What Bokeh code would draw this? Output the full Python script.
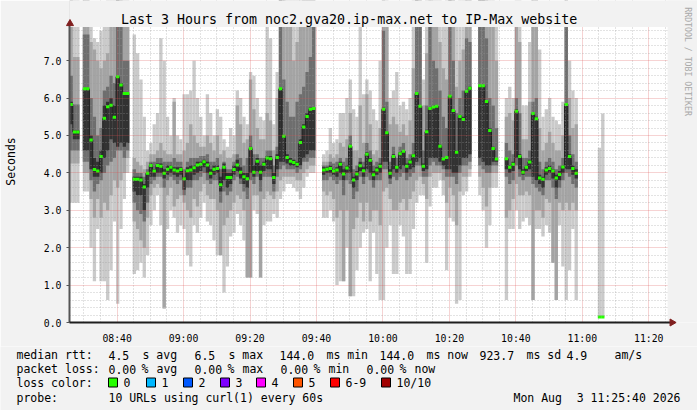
import numpy as np
from math import pi
from bokeh.plotting import figure
from bokeh.layouts import column
from bokeh.models import ColumnDataSource, FixedTicker, Range1d
from bokeh.core.properties import value
from bokeh.embed import file_html
from bokeh.resources import INLINE

# ---------------- data ----------------
title_text = "Last 3 Hours from noc2.gva20.ip-max.net to IP-Max website"
start_minute = 8 * 60 + 25 + 40 / 60.0      # 08:25:40
span_minutes = 180
x_tick_minutes = [520, 540, 560, 580, 600, 620, 640, 660, 680]
x_tick_labels = ["08:40", "09:00", "09:20", "09:40", "10:00", "10:20", "10:40", "11:00", "11:20"]
y_ticks = [0, 1, 2, 3, 4, 5, 6, 7]
y_tick_labels = ["0.0", "1.0", "2.0", "3.0", "4.0", "5.0", "6.0", "7.0"]
y_max = 7.9

N = None
# median rtt per minute (seconds)
median = [
    5.83, 5.09, 5.09, N, 6.25, 6.25, 4.88, 4.09, 4.05, 4.44,
    5.46, 5.77, 5.81, 5.49, 6.57, 6.35, 6.12, 6.12, N, 3.83,
    3.83, 3.81, 3.62, 3.99, 4.20, 4.05, 4.20, 4.18, 3.99, 4.10,
    4.15, 4.08, 4.05, 4.09, 3.84, 4.06, 4.08, 4.14, 4.21, 4.23,
    4.30, 4.21, 3.99, 4.10, 4.12, 3.68, 4.15, 3.88, 3.88, 4.09,
    4.21, 4.02, 3.90, 3.84, 4.65, 4.02, 4.31, 4.02, 4.23, 4.40,
    4.38, 3.88, 4.41, 6.25, 4.98, 4.41, 4.31, 4.28, 4.23, 4.81,
    5.23, 5.51, 5.70, 5.72, N, N, 4.08, 4.10, 4.12, 4.05,
    4.08, 4.23, 3.97, 4.13, 4.71, 3.81, 3.97, 4.19, 4.06, 4.50,
    4.34, 3.95, 4.08, 4.18, 5.70, 5.07, 3.99, 4.44, 4.15, 4.51,
    4.58, 4.18, 4.29, 4.46, 6.12, 5.78, 4.18, 5.10, 5.72, 5.76,
    5.78, 4.71, 4.37, 4.41, 6.05, 5.67, 4.55, 5.51, 5.43, 6.18,
    6.26, N, N, 6.33, 6.33, 5.91, 5.13, 4.65, 4.37, N,
    N, 4.38, 4.15, 4.23, 5.65, 4.44, 4.02, 4.15, 4.29, 5.59,
    5.45, 3.86, 3.83, 4.08, 4.12, 4.05, 3.86, 3.96, 4.16, 5.83,
    4.44, 4.12, 3.99, N, N, N, N, N, N, 0.144,
    0.144]

# smoke: outermost band (lightest)
smoke1_lo = [
    3.2, 3.2, 3.2, N, 3.5, 3.5, 2.0, 1.1, 2.5, 1.1,
    1.1, 0.6, 1.4, 2.7, 0.5, 2.5, 3.3, 4.0, N, 1.3,
    1.4, 1.6, 1.2, 1.8, 2.6, 3.0, 3.4, 2.6, 0.36, 2.5,
    3.0, 2.8, 2.4, 2.6, 2.5, 1.8, 1.5, 2.6, 2.4, 2.8,
    3.2, 2.7, 2.6, 2.2, 1.8, 1.8, 0.8, 1.5, 2.3, 2.4,
    2.9, 2.6, 2.2, 1.2, 1.2, 3.0, 2.9, 1.2, 2.6, 2.7,
    2.7, 2.9, 2.8, 3.3, 3.5, 3.7, 3.7, 3.6, 3.5, 3.3,
    3.6, 3.9, 4.0, 4.0, N, N, 2.8, 2.8, 3.0, 2.7,
    1.0, 1.1, 1.1, 2.0, 0.7, 0.7, 1.4, 2.0, 2.4, 2.5,
    1.1, 2.4, 1.3, 0.6, 0.6, 2.0, 2.6, 1.3, 1.3, 2.6,
    2.3, 1.3, 1.3, 2.5, 3.2, 3.4, 3.4, 1.6, 3.1, 3.6,
    3.6, 3.8, 3.4, 1.4, 2.8, 2.7, 0.5, 0.6, 3.4, 3.5,
    3.9, N, N, 3.4, 3.0, 2.0, 2.6, 3.6, 3.6, N,
    N, 0.6, 2.5, 2.5, 3.0, 2.5, 2.7, 2.8, 2.6, 0.6,
    2.5, 2.5, 2.3, 2.6, 2.4, 1.6, 0.6, 2.6, 1.5, 0.6,
    1.4, 2.5, 0.6, N, N, N, N, N, N, 0.14,
    0.14]
smoke1_hi = [
    9, 9, 9, N, 9, 9, 8.0, 7.6, 7.5, 7.8,
    7.9, 9, 9, 9, 9, 9, 9, 9, N, 7.7,
    7.2, 6.5, 5.5, 4.6, 4.8, 5.3, 5.6, 7.6, 7.0, 5.5,
    5.0, 6.0, 5.0, 4.9, 6.1, 6.1, 6.2, 7.0, 6.0, 5.5,
    5.0, 6.1, 5.6, 5.0, 5.7, 5.5, 4.9, 4.7, 5.2, 5.0,
    6.2, 6.0, 5.5, 5.3, 6.7, 6.6, 6.0, 5.5, 5.4, 7.9,
    7.6, 5.3, 6.7, 9, 9, 9, 9, 9, 9, 9,
    9, 9, 9, 9, N, N, 4.5, 4.6, 5.2, 4.8,
    4.9, 5.6, 5.6, 6.0, 6.5, 5.7, 5.5, 7.9, 6.1, 6.5,
    6.2, 5.7, 5.4, 7.0, 9, 9, 6.0, 6.2, 6.7, 5.8,
    5.9, 5.7, 6.0, 9, 9, 9, 6.5, 9, 9, 9,
    9, 9, 8.5, 9, 9, 9, 8.0, 9, 9, 9,
    9, N, N, 9, 9, 9, 9, 9, 8.2, N,
    N, 6.0, 6.3, 6.0, 9, 9, 5.8, 5.8, 7.5, 9,
    9, 7.3, 5.5, 5.7, 6.0, 5.5, 5.4, 5.3, 5.9, 9,
    7.0, 6.2, 6.0, N, N, N, N, N, N, 4.67,
    5.59]
# second band
smoke2_lo = [
    4.25, 4.25, 4.25, N, 4.0, 4.0, 3.3, 2.8, 3.3, 2.8,
    3.2, 3.0, 3.4, 3.8, 3.6, 3.8, 4.0, 4.4, N, 2.7,
    2.5, 2.2, 2.0, 2.8, 3.4, 3.6, 3.7, 3.6, 0.4, 3.4,
    3.6, 3.1, 3.3, 3.4, 3.2, 3.0, 2.8, 3.3, 3.1, 3.5,
    3.7, 3.4, 3.3, 3.3, 3.0, 1.8, 2.6, 2.8, 3.0, 3.2,
    3.4, 3.3, 3.0, 1.2, 1.2, 3.4, 3.4, 1.2, 3.3, 3.5,
    3.4, 3.3, 3.5, 3.8, 3.9, 3.9, 3.9, 3.9, 3.8, 3.8,
    4.0, 4.1, 4.2, 4.2, N, N, 3.5, 3.4, 3.5, 3.3,
    2.8, 3.0, 1.1, 3.0, 0.7, 2.5, 2.8, 3.2, 2.7, 3.2,
    2.7, 3.0, 3.0, 2.6, 3.5, 3.6, 3.3, 3.0, 3.0, 3.2,
    3.3, 3.0, 3.3, 3.5, 3.8, 3.9, 3.7, 3.3, 3.9, 4.0,
    4.0, 4.0, 3.8, 3.2, 3.6, 3.4, 2.6, 3.5, 3.9, 3.9,
    4.1, N, N, 3.9, 3.6, 3.1, 3.6, 4.0, 4.0, N,
    N, 2.8, 3.0, 3.3, 3.7, 3.4, 3.4, 3.5, 3.4, 0.6,
    3.0, 3.0, 2.8, 3.3, 3.2, 1.6, 0.6, 3.2, 3.0, 3.2,
    3.0, 3.2, 3.0, N, N, N, N, N, N, N,
    N]
smoke2_hi = [
    9, 7.1, 7.1, N, 9, 9, 7.5, 7.3, 7.0, 6.8,
    7.0, 7.2, 7.9, 8.0, 9, 9, 8.2, 8.0, N, 4.4,
    4.3, 4.2, 4.1, 4.3, 4.5, 4.5, 4.6, 4.8, 4.6, 4.5,
    4.5, 5.9, 4.5, 4.5, 4.6, 4.8, 5.3, 5.0, 4.8, 4.7,
    4.7, 5.0, 4.8, 4.6, 5.0, 4.5, 4.6, 4.4, 4.4, 4.5,
    5.8, 5.3, 4.8, 4.9, 6.5, 5.7, 5.2, 4.9, 4.9, 5.6,
    5.4, 4.6, 6.0, 9, 9, 8.2, 7.9, 7.0, 7.5, 8.0,
    9, 9, 9, 9, N, N, 4.3, 4.3, 4.5, 4.4,
    4.5, 4.8, 4.7, 4.9, 5.6, 4.6, 4.6, 5.8, 4.8, 6.1,
    5.3, 4.5, 4.6, 5.2, 9, 7.9, 5.3, 5.5, 5.3, 5.1,
    5.3, 5.0, 5.4, 6.8, 9, 9, 5.8, 7.2, 9, 8.5,
    8.5, 7.5, 6.8, 6.5, 9, 9, 6.3, 7.0, 7.3, 9,
    9, N, N, 9, 9, 9, 8.0, 8.0, 7.0, N,
    N, 5.5, 5.6, 5.4, 7.9, 7.5, 4.9, 4.9, 5.9, 9,
    9, 5.2, 4.6, 4.8, 5.1, 4.8, 4.6, 4.6, 5.0, 9,
    6.0, 5.2, 5.3, N, N, N, N, N, N, N,
    N]
# third band
smoke3_lo = [
    4.6, 4.6, 4.6, N, 4.3, 4.3, 3.8, 3.5, 3.7, 3.8,
    4.0, 4.2, 4.3, 4.4, 4.6, 4.6, 4.4, 4.6, N, 3.2,
    3.0, 2.9, 2.7, 3.2, 3.7, 3.8, 3.9, 3.9, 3.6, 3.8,
    3.9, 3.8, 3.7, 3.8, 3.4, 3.6, 3.6, 3.8, 3.8, 3.9,
    4.0, 3.8, 3.7, 3.8, 3.8, 3.2, 3.5, 3.4, 3.5, 3.8,
    3.9, 3.7, 3.5, 3.3, 3.8, 3.7, 3.9, 3.5, 3.9, 3.9,
    3.9, 3.5, 3.9, 4.1, 4.2, 4.1, 4.1, 4.1, 4.0, 4.1,
    4.3, 4.3, 4.4, 4.4, N, N, 3.8, 3.8, 3.9, 3.8,
    3.7, 3.8, 3.4, 3.8, 3.7, 3.3, 3.5, 3.9, 3.7, 3.9,
    3.8, 3.6, 3.8, 3.8, 4.1, 4.1, 3.7, 3.9, 3.8, 3.9,
    4.0, 3.8, 3.9, 4.0, 4.2, 4.2, 3.9, 3.9, 4.2, 4.3,
    4.2, 4.2, 4.1, 3.9, 3.9, 3.9, 3.7, 4.0, 4.2, 4.2,
    4.3, N, N, 4.2, 4.1, 4.0, 4.0, 4.2, 4.2, N,
    N, 3.9, 3.7, 3.8, 4.2, 3.9, 3.8, 3.9, 3.9, 3.7,
    3.6, 3.5, 3.4, 3.8, 3.8, 3.6, 3.3, 3.6, 3.8, 4.0,
    3.9, 3.7, 3.6, N, N, N, N, N, N, N,
    N]
smoke3_hi = [
    6.6, 5.83, 5.83, N, 7.7, 7.7, 6.0, 5.5, 5.0, 5.2,
    6.2, 6.3, 6.6, 6.4, 9, 7.9, 7.0, 7.0, N, 4.1,
    4.0, 4.0, 3.9, 4.1, 4.3, 4.3, 4.4, 4.4, 4.3, 4.3,
    4.3, 4.4, 4.3, 4.3, 4.1, 4.3, 4.4, 4.4, 4.4, 4.45,
    4.45, 4.5, 4.3, 4.3, 4.4, 4.1, 4.3, 4.1, 4.1, 4.3,
    4.5, 4.4, 4.2, 4.4, 5.0, 4.5, 4.5, 4.4, 4.4, 4.6,
    4.6, 4.2, 4.7, 9, 6.5, 5.9, 5.5, 5.5, 5.9, 6.1,
    6.3, 6.7, 7.1, 7.9, N, N, 4.2, 4.2, 4.3, 4.25,
    4.3, 4.4, 4.3, 4.4, 5.0, 4.1, 4.2, 4.4, 4.3, 4.8,
    4.6, 4.2, 4.3, 4.4, 7.8, 5.9, 4.3, 4.7, 4.4, 4.7,
    4.8, 4.4, 4.5, 4.8, 9, 7.9, 4.6, 5.8, 7.9, 7.0,
    6.8, 6.2, 5.5, 5.2, 9, 7.0, 5.6, 6.0, 6.2, 7.6,
    7.5, N, N, 9, 9, 7.6, 6.0, 5.8, 5.2, N,
    N, 4.8, 4.6, 4.5, 6.0, 5.6, 4.4, 4.4, 4.6, 5.9,
    6.0, 4.3, 4.1, 4.3, 4.4, 4.3, 4.1, 4.2, 4.4, 7.9,
    5.0, 4.5, 4.3, N, N, N, N, N, N, N,
    N]
# innermost band (darkest)
smoke4_lo = [
    5.3, 4.9, 4.9, N, 4.6, 4.6, 4.1, 3.9, 3.9, 4.0,
    4.4, 4.6, 4.9, 4.8, 4.7, 4.8, 4.7, 4.8, N, 3.5,
    3.4, 3.4, 3.0, 3.6, 3.9, 3.9, 4.0, 4.0, 3.85, 3.95,
    4.0, 3.95, 3.9, 3.95, 3.55, 3.8, 3.8, 3.95, 4.0, 4.05,
    4.15, 4.0, 3.85, 3.95, 4.0, 3.5, 3.8, 3.6, 3.7, 3.95,
    4.05, 3.85, 3.7, 3.6, 4.0, 3.9, 4.05, 3.8, 4.05, 4.1,
    4.1, 3.7, 4.1, 4.3, 4.3, 4.25, 4.2, 4.2, 4.15, 4.2,
    4.4, 4.5, 4.6, 4.6, N, N, 3.95, 4.0, 4.0, 3.95,
    3.9, 4.0, 3.8, 4.0, 4.0, 3.6, 3.8, 4.05, 3.9, 4.1,
    4.0, 3.8, 3.95, 4.0, 4.3, 4.3, 3.85, 4.1, 4.0, 4.1,
    4.2, 4.0, 4.1, 4.15, 4.3, 4.4, 4.05, 4.1, 4.4, 4.4,
    4.4, 4.3, 4.2, 4.1, 4.1, 4.0, 4.0, 4.2, 4.4, 4.4,
    4.5, N, N, 4.4, 4.3, 4.2, 4.2, 4.3, 4.3, N,
    N, 4.1, 4.0, 4.05, 4.4, 4.1, 3.95, 4.05, 4.1, 3.9,
    3.8, 3.7, 3.6, 3.95, 4.0, 3.85, 3.6, 3.8, 4.0, 4.1,
    4.1, 3.95, 3.85, N, N, N, N, N, N, N,
    N]
smoke4_hi = [
    5.9, 5.13, 5.13, N, 6.25, 6.25, 5.0, 4.4, 4.3, 4.6,
    5.8, 5.9, 6.0, 5.8, 6.6, 6.4, 6.12, 6.12, N, 3.9,
    3.9, 3.9, 3.7, 4.0, 4.25, 4.1, 4.25, 4.25, 4.1, 4.2,
    4.2, 4.15, 4.15, 4.15, 3.9, 4.15, 4.2, 4.2, 4.3, 4.3,
    4.35, 4.3, 4.1, 4.2, 4.2, 3.9, 4.25, 4.0, 4.0, 4.2,
    4.35, 4.15, 4.0, 4.0, 4.7, 4.2, 4.4, 4.2, 4.3, 4.45,
    4.45, 4.0, 4.5, 6.25, 5.0, 4.5, 4.4, 4.35, 4.3, 4.9,
    5.3, 5.6, 5.75, 5.75, N, N, 4.15, 4.15, 4.2, 4.1,
    4.15, 4.3, 4.1, 4.2, 4.75, 3.9, 4.05, 4.3, 4.15, 4.55,
    4.4, 4.05, 4.15, 4.25, 5.75, 5.1, 4.1, 4.5, 4.2, 4.55,
    4.6, 4.25, 4.35, 4.5, 6.15, 5.8, 4.25, 5.15, 5.75, 5.8,
    5.8, 4.75, 4.4, 4.45, 6.05, 5.7, 4.6, 5.55, 5.5, 6.2,
    6.3, N, N, 6.33, 6.33, 5.95, 5.2, 4.7, 4.4, N,
    N, 4.4, 4.2, 4.3, 5.7, 4.5, 4.1, 4.2, 4.35, 5.6,
    5.5, 3.95, 3.9, 4.15, 4.2, 4.1, 3.95, 4.05, 4.2, 5.85,
    4.5, 4.2, 4.1, N, N, N, N, N, N, N,
    N]

legend_line1 = [(16, "median rtt:"), (108, "4.5"), (142, "s avg"), (194, "6.5"), (228, "s max"),
                (279, "144.0"), (326, "ms min"), (379, "144.0"), (426, "ms now"),
                (479, "923.7"), (526, "ms sd"), (566, "4.9"), (614, "am/s")]
legend_line2 = [(16, "packet loss:"), (108, "0.00"), (141, "%"), (156, "avg"),
                (194, "0.00"), (227, "%"), (242, "max"), (280, "0.00"), (313, "%"), (328, "min"),
                (366, "0.00"), (399, "%"), (414, "now")]
loss_labels = ["0", "1", "2", "3", "4", "5", "6-9", "10/10"]
loss_colors = ["#26ff00", "#00b8ff", "#0059ff", "#7e00ff", "#ff00ff", "#ff5500", "#ff0000", "#a10000"]
loss_box_px = [108, 146, 183, 220, 256, 293, 330, 381]
probe_text = "10 URLs using curl(1) every 60s"
date_left = "Mon Aug"
date_right = "3 11:25:40 2026"
watermark = "RRDTOOL / TOBI OETIKER"

# ---------------- layout constants (pixels) ----------------
FONT = "DejaVu Sans Mono"
BG = "#f2f2f2"
W = 697
MAIN_H = 346
LEG_H = 410 - MAIN_H
PX_LEFT, PX_BOTTOM = 67, 328        # canvas corner
PX_PER_MIN = 600 / span_minutes
PX_PER_SEC = 38.1


def arr(v):
    return np.array([np.nan if a is None else a for a in v], dtype=float)


def X(px):
    return start_minute + (px - PX_LEFT) / PX_PER_MIN


def Y(py):
    return (PX_BOTTOM - py) / PX_PER_SEC


n = len(median)
left = start_minute + np.arange(n)
right = left + 1
med = arr(median)
end_minute = start_minute + span_minutes

# frame spans from x=67 to the right edge and from the top edge down to y=328
p = figure(width=W, height=MAIN_H,
           x_range=Range1d(start_minute, X(W)), y_range=Range1d(0, Y(0)),
           output_backend="svg", toolbar_location=None,
           min_border_left=PX_LEFT, min_border_right=0, min_border_top=0,
           min_border_bottom=MAIN_H - PX_BOTTOM,
           background_fill_color="white", border_fill_color=BG, outline_line_color=None)
p.frame_align = False

band_colors = ["#cacaca", "#a4a4a4", "#6e6e6e", "#323232"]
bands = [(smoke1_lo, smoke1_hi), (smoke2_lo, smoke2_hi), (smoke3_lo, smoke3_hi), (smoke4_lo, smoke4_hi)]
for (lo, hi), col in zip(bands, band_colors):
    src = ColumnDataSource(dict(left=left, right=right, bottom=arr(lo), top=arr(hi)))
    p.quad(left="left", right="right", bottom="bottom", top="top", source=src,
           fill_color=col, line_color=None)

# median connectors and loss-coloured median marks
vx, vy0, vy1 = [], [], []
for i in range(n - 1):
    if not np.isnan(med[i]) and not np.isnan(med[i + 1]):
        vx.append(right[i]); vy0.append(med[i]); vy1.append(med[i + 1])
p.segment(x0=vx, y0=vy0, x1=vx, y1=vy1, line_color="#202020", line_width=1)
msrc = ColumnDataSource(dict(x0=left, x1=right, y=med))
p.segment(x0="x0", y0="y", x1="x1", y1="y", source=msrc, line_color=loss_colors[0],
          line_width=3, line_cap="butt")

# axes / grid
minor_x = [m for m in range(510, 686, 5) if m not in x_tick_minutes]
minor_y = [round(v * 0.2, 1) for v in range(0, 40) if v % 5 != 0]
xt = FixedTicker(ticks=x_tick_minutes, minor_ticks=minor_x)
yt = FixedTicker(ticks=y_ticks, minor_ticks=minor_y)
p.xaxis.ticker = xt
p.yaxis.ticker = yt
p.xgrid.ticker = xt
p.ygrid.ticker = yt
p.xaxis.major_label_overrides = dict(zip(x_tick_minutes, x_tick_labels))
p.yaxis.major_label_overrides = dict(zip(y_ticks, y_tick_labels))
for ax in (p.xaxis, p.yaxis):
    ax.major_label_text_font = FONT
    ax.major_label_text_font_size = "9.8px"
    ax.major_label_text_color = "black"
    ax.minor_tick_line_color = None
    ax.axis_line_color = None
p.xaxis.major_tick_line_color = None
p.xaxis.major_label_standoff = 4
p.yaxis.major_tick_line_color = "#555555"
p.yaxis.major_tick_out = 3
p.yaxis.major_tick_in = 0
p.yaxis.major_label_standoff = 4
p.yaxis.axis_label = "Seconds"
p.yaxis.axis_label_text_font = FONT
p.yaxis.axis_label_text_font_size = "11.5px"
p.yaxis.axis_label_text_font_style = "normal"
p.yaxis.axis_label_text_color = "black"
p.yaxis.axis_label_standoff = 23
for g in (p.xgrid, p.ygrid):
    g.grid_line_color = "#de4f4f"
    g.grid_line_alpha = 0.5
    g.grid_line_dash = "1 1"
    g.minor_grid_line_color = "#9a9a9a"
    g.minor_grid_line_alpha = 0.55
    g.minor_grid_line_dash = "1 2"
    g.level = "guide"

# background strips outside the 3-hour canvas (above grid)
strip_top = p.quad(left=[start_minute], right=[X(W)], bottom=[y_max], top=[Y(0)],
                   fill_color=BG, line_color=None)
strip_right = p.quad(left=[end_minute], right=[X(W)], bottom=[0], top=[Y(0)],
                     fill_color=BG, line_color=None)
strip_top.level = "annotation"
strip_right.level = "annotation"

# axis lines with arrows
ax_y = p.segment(x0=[start_minute], y0=[0], x1=[start_minute], y1=[Y(22)],
                 line_color="#555555", line_width=2)
ax_x = p.segment(x0=[start_minute], y0=[0], x1=[X(672)], y1=[0],
                 line_color="#1f1f1f", line_width=2)
arrow_up = p.scatter(x=[X(67.5)], y=[Y(23.5)], marker="triangle", size=7,
                     fill_color="#801f1f", line_color="#801f1f")
arrow_right = p.scatter(x=[X(671.5)], y=[0], marker="triangle", size=7, angle=-pi / 2,
                        fill_color="#801f1f", line_color="#801f1f")
title_r = p.text(x=[X(347.5)], y=[Y(19)], text=[title_text], text_font=value(FONT),
                 text_font_size=value("13.3px"), text_align="center", text_baseline="middle",
                 text_color="black")
wm_r = p.text(x=[X(687)], y=[Y(7)], text=[watermark], text_font=value(FONT),
              text_font_size=value("8.2px"), text_align="left", text_baseline="middle",
              text_color="#a8a8a8", angle=-pi / 2)
for r in (ax_y, ax_x, arrow_up, arrow_right, title_r, wm_r):
    r.level = "overlay"

# ---------------- legend strip ----------------
leg = figure(width=W, height=LEG_H, x_range=Range1d(0, W), y_range=Range1d(410, MAIN_H),
             x_axis_location=None, y_axis_location=None,
             output_backend="svg", toolbar_location=None,
             min_border=0, min_border_left=0, min_border_right=0, min_border_top=0,
             min_border_bottom=0, background_fill_color=BG, border_fill_color=BG,
             outline_line_color=None)
leg.frame_align = False
leg.grid.visible = False

tx, ty, tt = [], [], []
for px, t in legend_line1:
    tx.append(px); ty.append(354.5); tt.append(t)
for px, t in legend_line2:
    tx.append(px); ty.append(368.5); tt.append(t)
tx.append(16); ty.append(382); tt.append("loss color:")
for bx, t in zip(loss_box_px, loss_labels):
    tx.append(bx + 15); ty.append(382); tt.append(t)
tx += [16, 108, 513]; ty += [397, 397, 397]; tt += ["probe:", probe_text, date_left]
leg.text(x=tx, y=ty, text=tt, text_font=value(FONT), text_font_size=value("11.5px"),
         text_align="left", text_baseline="middle", text_color="black")
leg.text(x=[680], y=[397], text=[date_right], text_font=value(FONT),
         text_font_size=value("11.5px"), text_align="right", text_baseline="middle",
         text_color="black")
leg.quad(left=[b for b in loss_box_px], right=[b + 9 for b in loss_box_px],
         top=[377.5] * len(loss_box_px), bottom=[386.5] * len(loss_box_px),
         fill_color=loss_colors, line_color="black", line_width=1)

layout = column(p, leg, spacing=0)
open("out.html", "w").write(file_html(layout, INLINE))
